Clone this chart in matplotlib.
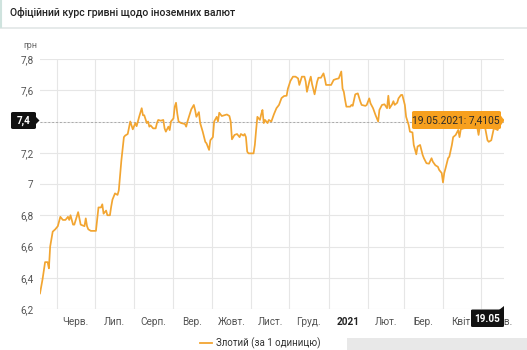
import matplotlib
matplotlib.use("Agg")
import matplotlib.pyplot as plt
from matplotlib.patches import FancyBboxPatch, Polygon, Rectangle
from matplotlib.lines import Line2D
import pandas as pd

plt.rcParams['font.family'] = ['Roboto', 'DejaVu Sans']

# Official UAH rate for 1 PLN
dates = [
    "2020-05-19", "2020-05-21", "2020-05-23", "2020-05-25", "2020-05-26", "2020-05-27",
    "2020-05-29", "2020-05-31", "2020-06-02", "2020-06-04", "2020-06-06", "2020-06-08",
    "2020-06-10", "2020-06-11", "2020-06-12", "2020-06-14", "2020-06-15", "2020-06-18",
    "2020-06-20", "2020-06-23", "2020-06-24", "2020-06-25", "2020-06-26", "2020-06-28",
    "2020-07-02", "2020-07-04", "2020-07-06", "2020-07-07", "2020-07-08", "2020-07-10",
    "2020-07-11", "2020-07-13", "2020-07-14", "2020-07-15", "2020-07-17", "2020-07-19",
    "2020-07-20", "2020-07-22", "2020-07-24", "2020-07-25", "2020-07-27", "2020-07-29",
    "2020-07-31", "2020-08-02", "2020-08-03", "2020-08-05", "2020-08-07", "2020-08-08",
    "2020-08-09", "2020-08-11", "2020-08-12", "2020-08-13", "2020-08-14", "2020-08-16",
    "2020-08-18", "2020-08-19", "2020-08-20", "2020-08-22", "2020-08-24", "2020-08-25",
    "2020-08-26", "2020-08-28", "2020-08-29", "2020-08-30", "2020-09-01", "2020-09-02",
    "2020-09-03", "2020-09-04", "2020-09-05", "2020-09-07", "2020-09-10", "2020-09-11",
    "2020-09-12", "2020-09-15", "2020-09-17", "2020-09-18", "2020-09-19", "2020-09-21",
    "2020-09-22", "2020-09-24", "2020-09-26", "2020-09-27", "2020-09-29", "2020-09-30",
    "2020-10-02", "2020-10-03", "2020-10-05", "2020-10-06", "2020-10-07", "2020-10-09",
    "2020-10-11", "2020-10-13", "2020-10-15", "2020-10-16", "2020-10-17", "2020-10-19",
    "2020-10-21", "2020-10-23", "2020-10-24", "2020-10-26", "2020-10-27", "2020-10-28",
    "2020-10-29", "2020-10-30", "2020-11-03", "2020-11-04", "2020-11-05", "2020-11-06",
    "2020-11-08", "2020-11-09", "2020-11-10", "2020-11-11", "2020-11-12", "2020-11-14",
    "2020-11-15", "2020-11-17", "2020-11-19", "2020-11-21", "2020-11-23", "2020-11-25",
    "2020-11-27", "2020-11-29", "2020-11-30", "2020-12-02", "2020-12-04", "2020-12-06",
    "2020-12-08", "2020-12-09", "2020-12-11", "2020-12-13", "2020-12-14", "2020-12-15",
    "2020-12-17", "2020-12-18", "2020-12-19", "2020-12-21", "2020-12-23", "2020-12-24",
    "2020-12-26", "2020-12-28", "2020-12-29", "2020-12-30", "2021-01-03", "2021-01-05",
    "2021-01-07", "2021-01-09", "2021-01-11", "2021-01-12", "2021-01-13", "2021-01-14",
    "2021-01-15", "2021-01-18", "2021-01-19", "2021-01-20", "2021-01-22", "2021-01-24",
    "2021-01-26", "2021-01-27", "2021-01-30", "2021-01-31", "2021-02-02", "2021-02-03",
    "2021-02-05", "2021-02-07", "2021-02-09", "2021-02-10", "2021-02-12", "2021-02-14",
    "2021-02-16", "2021-02-17", "2021-02-18", "2021-02-20", "2021-02-21", "2021-02-22",
    "2021-02-24", "2021-02-25", "2021-02-27", "2021-02-28", "2021-03-02", "2021-03-03",
    "2021-03-05", "2021-03-06", "2021-03-08", "2021-03-09", "2021-03-11", "2021-03-12",
    "2021-03-14", "2021-03-16", "2021-03-17", "2021-03-19", "2021-03-21", "2021-03-23",
    "2021-03-24", "2021-03-26", "2021-03-28", "2021-03-29", "2021-03-31", "2021-04-01",
    "2021-04-02", "2021-04-03", "2021-04-05", "2021-04-06", "2021-04-08", "2021-04-09",
    "2021-04-11", "2021-04-13", "2021-04-14", "2021-04-15", "2021-04-17", "2021-04-20",
    "2021-04-22", "2021-04-25", "2021-04-28", "2021-04-29", "2021-04-30", "2021-05-03",
    "2021-05-04", "2021-05-06", "2021-05-07", "2021-05-09", "2021-05-11", "2021-05-13",
    "2021-05-14", "2021-05-15", "2021-05-17", "2021-05-19",
]
rates = [
    6.30, 6.39, 6.50, 6.50, 6.46, 6.60,
    6.695, 6.71, 6.73, 6.79, 6.77, 6.77,
    6.79, 6.77, 6.80, 6.74, 6.74, 6.82,
    6.74, 6.73, 6.78, 6.73, 6.71, 6.70,
    6.70, 6.85, 6.85, 6.87, 6.81, 6.83,
    6.80, 6.80, 6.855, 6.90, 6.94, 6.93,
    6.96, 7.15, 7.30, 7.31, 7.32, 7.40,
    7.35, 7.39, 7.37, 7.43, 7.485, 7.44,
    7.44, 7.39, 7.40, 7.367, 7.375, 7.356,
    7.356, 7.39, 7.41, 7.405, 7.41, 7.356,
    7.335, 7.367, 7.345, 7.40, 7.42, 7.495,
    7.52, 7.45, 7.40, 7.39, 7.384, 7.367,
    7.40, 7.478, 7.506, 7.474, 7.43, 7.46,
    7.39, 7.335, 7.27, 7.26, 7.218, 7.28,
    7.30, 7.40, 7.43, 7.40, 7.456, 7.435,
    7.44, 7.445, 7.435, 7.40, 7.286, 7.314,
    7.32, 7.30, 7.32, 7.31, 7.32, 7.30,
    7.207, 7.196, 7.196, 7.25, 7.345, 7.43,
    7.41, 7.446, 7.474, 7.39, 7.41, 7.39,
    7.41, 7.40, 7.446, 7.485, 7.506, 7.55,
    7.563, 7.565, 7.61, 7.66, 7.687, 7.687,
    7.676, 7.634, 7.687, 7.687, 7.655, 7.59,
    7.66, 7.687, 7.64, 7.574, 7.655, 7.68,
    7.68, 7.708, 7.676, 7.634, 7.634, 7.666,
    7.672, 7.676, 7.72, 7.61, 7.59, 7.538,
    7.495, 7.495, 7.506, 7.50, 7.574, 7.58,
    7.527, 7.506, 7.50, 7.506, 7.548, 7.516,
    7.485, 7.44, 7.40, 7.474, 7.506, 7.51,
    7.485, 7.565, 7.485, 7.51, 7.53, 7.506,
    7.52, 7.548, 7.57, 7.57, 7.506, 7.43,
    7.378, 7.335, 7.33, 7.25, 7.19, 7.24,
    7.25, 7.186, 7.165, 7.133, 7.13, 7.165,
    7.143, 7.12, 7.11, 7.09, 7.07, 7.01,
    7.07, 7.10, 7.165, 7.175, 7.25, 7.30,
    7.314, 7.346, 7.30, 7.35, 7.356, 7.36,
    7.37, 7.37, 7.36, 7.314, 7.367, 7.375,
    7.367, 7.28, 7.27, 7.28, 7.356, 7.35,
    7.345, 7.367, 7.39, 7.4105,
]

month_labels = ["Черв.", "Лип.", "Серп.", "Вер.", "Жовт.", "Лист.", "Груд.",
                "2021", "Лют.", "Бер.", "Квіт.", "Трав."]
y_ticks = [6.2, 6.4, 6.6, 6.8, 7.0, 7.2, 7.4, 7.6, 7.8]
title = "Офіційний курс гривні щодо іноземних валют"
series_name = "Злотий (за 1 одиницю)"
unit = "грн"
current_level = 7.4
tooltip_text = "19.05.2021: 7,4105"
cursor_label = "19.05"

LINE = "#F2A531"
GRID = "#E6E6E6"
W, H = 527, 350

t = pd.to_datetime(dates)
fig = plt.figure(figsize=(W / 100, H / 100), dpi=100)


def fx(x):
    return x / W


def fy(y):
    return 1 - y / H


# header card
fig.add_artist(Rectangle((0, fy(27)), 1, fy(0) - fy(27), transform=fig.transFigure,
                         facecolor="white", edgecolor="none", zorder=0))
fig.add_artist(Line2D([0, 1], [fy(27.5), fy(27.5)], transform=fig.transFigure,
                      color="#E2E6E6", lw=1.2))
fig.add_artist(Line2D([fx(0.8), fx(0.8)], [fy(0), fy(27)], transform=fig.transFigure,
                      color="#CFE3DE", lw=1.5))
fig.text(fx(10), fy(13), title, fontsize=7.6, fontweight="medium", color="#222222",
         ha="left", va="center")

ax = fig.add_axes([fx(40), fy(309), fx(504) - fx(40), fy(59) - fy(309)])
ax.plot(t, rates, color=LINE, lw=1.25, solid_joinstyle="round", zorder=3)

start = pd.Timestamp(dates[0])
end = pd.Timestamp(dates[-1])
ax.set_xlim(start, end)
ax.set_ylim(y_ticks[0], y_ticks[-1])

for s in ax.spines.values():
    s.set_visible(False)

ax.set_yticks(y_ticks)
ax.set_yticklabels([("" if abs(v - current_level) < 1e-9 else
                     (f"{v:g}".replace(".", ","))) for v in y_ticks])
ax.tick_params(axis="y", length=0, pad=4.5, labelsize=7.2, labelcolor="#555555")

# month boundaries as grid, month names centred in each month
month_starts = pd.date_range("2020-06-01", "2021-05-01", freq="MS")
ax.set_xticks(month_starts)
ax.set_xticklabels([])
ax.tick_params(axis="x", length=0)
mids = []
for m in month_starts:
    nxt = m + pd.offsets.MonthBegin(1)
    mids.append(m + (nxt - m) / 2)
ax.set_xticks(mids, minor=True)
ax.set_xticklabels(month_labels, minor=True)
ax.tick_params(axis="x", which="minor", length=0, pad=5.5, labelsize=7.2,
               labelcolor="#555555")
for lbl in ax.get_xticklabels(minor=True):
    if lbl.get_text() == "2021":
        lbl.set_fontweight("bold")
        lbl.set_color("#222222")

ax.grid(True, axis="both", which="major", color=GRID, lw=0.8)
ax.set_axisbelow(True)

# crosshair at the last value
ax.axhline(current_level, color="#AAAAAA", lw=0.7, ls=(0, (2, 2)), zorder=2)
ax.axvline(end, color="#AAAAAA", lw=0.7, ls=(0, (2, 2)), zorder=2)

fig.text(fx(23), fy(45), unit, fontsize=6.5, color="#666666", ha="left", va="center")

# level badge on the y axis
fig.add_artist(FancyBboxPatch((fx(11), fy(129)), fx(25), fy(112) - fy(129),
                              boxstyle="round,pad=0,rounding_size=0.004",
                              transform=fig.transFigure, facecolor="#111111",
                              edgecolor="none", zorder=5))
fig.add_artist(Polygon([(fx(36), fy(117)), (fx(39.5), fy(120.5)), (fx(36), fy(124))],
                       closed=True, transform=fig.transFigure, facecolor="#111111",
                       edgecolor="none", zorder=5))
fig.text(fx(23.5), fy(120.5), "7,4", fontsize=7.2, fontweight="bold", color="white",
         ha="center", va="center", zorder=6)

# tooltip for the last point
fig.add_artist(FancyBboxPatch((fx(412), fy(129)), fx(89), fy(111) - fy(129),
                              boxstyle="round,pad=0,rounding_size=0.004",
                              transform=fig.transFigure, facecolor="#F7A01E",
                              edgecolor="none", zorder=5))
fig.add_artist(Polygon([(fx(500.5), fy(115)), (fx(504), fy(120)), (fx(500.5), fy(125))],
                       closed=True, transform=fig.transFigure, facecolor="#F7A01E",
                       edgecolor="none", zorder=5))
fig.text(fx(456), fy(120.5), tooltip_text, fontsize=7.4, color="#2A2A2A",
         ha="center", va="center", zorder=6)

# date badge under the x axis
fig.add_artist(FancyBboxPatch((fx(471), fy(327)), fx(33), fy(309.5) - fy(327),
                              boxstyle="round,pad=0,rounding_size=0.003",
                              transform=fig.transFigure, facecolor="#111111",
                              edgecolor="none", zorder=5))
fig.add_artist(Polygon([(fx(499), fy(310)), (fx(504), fy(306)), (fx(504), fy(312))],
                       closed=True, transform=fig.transFigure, facecolor="#111111",
                       edgecolor="none", zorder=5))
fig.text(fx(487.5), fy(318.5), cursor_label, fontsize=7.2, fontweight="bold",
         color="white", ha="center", va="center", zorder=6)

# legend
fig.add_artist(Line2D([fx(200), fx(212)], [fy(343), fy(343)], transform=fig.transFigure,
                      color=LINE, lw=1.3))
fig.text(fx(216), fy(343), series_name, fontsize=7, color="#333333",
         ha="left", va="center")

# grey bar at the bottom right
fig.add_artist(Rectangle((fx(347), 0), 1 - fx(347), fy(338), transform=fig.transFigure,
                         facecolor="#E8E8E8", edgecolor="none", zorder=1))

fig.savefig("out.png", dpi=100)
